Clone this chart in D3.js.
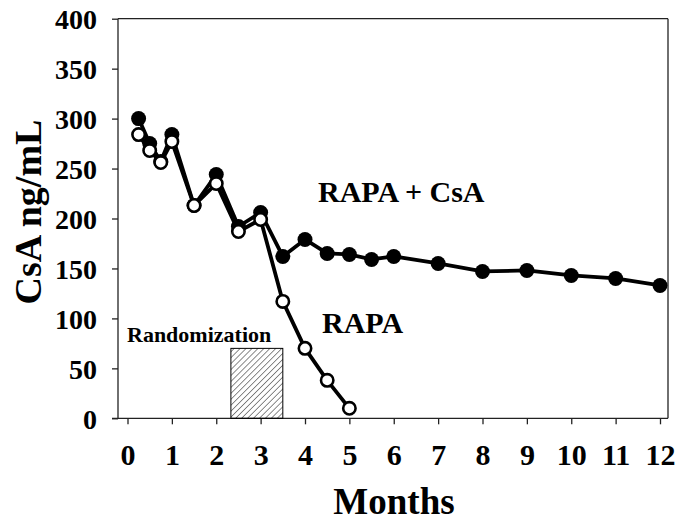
<!DOCTYPE html>
<html><head><meta charset="utf-8">
<script src="https://cdn.jsdelivr.net/npm/d3@7"></script>
<style>html,body{margin:0;padding:0;background:#fff;}svg{display:block;}</style>
</head><body>
<svg id="chart" width="678" height="521"></svg>
<script>
const combMonths = [0.25,0.5,0.75,1,1.5,2,2.5,3,3.5,4,4.5,5,5.5,6,7,8,9,10,11,12];
const combValues = [300,275,257,284,213,244,192,206,162,179,165,164,159,162,155,147,148,143,140,133];
const rapaMonths = [0.25,0.5,0.75,1,1.5,2,2.5,3,3.5,4,4.5,5];
const rapaValues = [284,268,256,277,213,235,187,199,117,70,38,10];
const xTicks = [0,1,2,3,4,5,6,7,8,9,10,11,12];
const yTicks = [0,50,100,150,200,250,300,350,400];
const randomization = {start: 2.33, end: 3.5, height: 70};

const svg = d3.select("#chart");
const font = "'Liberation Serif','Times New Roman',serif";
const x = d3.scaleLinear().domain([0,12]).range([127.5,660]);
const y = d3.scaleLinear().domain([0,400]).range([418.3,18.7]);
const L = 118, R = 668;

// hatch pattern
const defs = svg.append("defs");
const pat = defs.append("pattern").attr("id","hatch").attr("patternUnits","userSpaceOnUse")
  .attr("width",4.2).attr("height",4.2).attr("patternTransform","rotate(45)");
pat.append("line").attr("x1",0).attr("y1",0).attr("x2",0).attr("y2",4.2)
  .attr("stroke","#000").attr("stroke-width",0.9);

// frame
const g = svg.append("g");
g.append("line").attr("x1",L).attr("x2",R).attr("y1",y(400)).attr("y2",y(400)).attr("stroke","#222").attr("stroke-width",1.3);
g.append("line").attr("x1",R).attr("x2",R).attr("y1",y(400)).attr("y2",y(0)).attr("stroke","#222").attr("stroke-width",1.3);

// axes
const yAxis = d3.axisLeft(y).tickValues(yTicks).tickSize(6).tickFormat(d3.format("d"));
const ya = svg.append("g").attr("transform",`translate(${L},0)`).call(yAxis);
ya.select(".domain").attr("d",`M0,${y(0)}V${y(400)}`);
const xAxis = d3.axisBottom(x).tickValues(xTicks).tickSize(6).tickFormat(d3.format("d"));
const xa = svg.append("g").attr("transform",`translate(0,${y(0)})`).call(xAxis);
xa.select(".domain").attr("d",`M${L-6},0H${R}`);
[ya,xa].forEach(a=>{
  a.selectAll("path,line").attr("stroke","#222").attr("stroke-width",1.3);
  a.selectAll("text").attr("font-family",font).attr("font-weight","bold").attr("fill","#000");
});
ya.selectAll("text").attr("font-size",28).attr("x",-21).attr("dy","0.36em");
xa.selectAll("text").attr("font-size",30).attr("y",47).attr("dy",0);

// randomization box
svg.append("rect")
  .attr("x",x(randomization.start)).attr("y",y(randomization.height))
  .attr("width",x(randomization.end)-x(randomization.start))
  .attr("height",y(0)-y(randomization.height))
  .attr("fill","url(#hatch)").attr("stroke","#000").attr("stroke-width",1);

const line = d3.line().x(d=>x(d[0])).y(d=>y(d[1]));
const comb = combMonths.map((m,i)=>[m,combValues[i]]);
const rapa = rapaMonths.map((m,i)=>[m,rapaValues[i]]);

svg.append("path").datum(comb).attr("d",line).attr("fill","none").attr("stroke","#000").attr("stroke-width",3.8).attr("stroke-linejoin","round");
svg.append("g").selectAll("circle").data(comb).join("circle")
  .attr("cx",d=>x(d[0])).attr("cy",d=>y(d[1])).attr("r",7.5).attr("fill","#000");

svg.append("path").datum(rapa).attr("d",line).attr("fill","none").attr("stroke","#000").attr("stroke-width",3.8).attr("stroke-linejoin","round");
svg.append("g").selectAll("circle").data(rapa).join("circle")
  .attr("cx",d=>x(d[0])).attr("cy",d=>y(d[1])).attr("r",6.2).attr("fill","#fff").attr("stroke","#000").attr("stroke-width",2.6);

// labels
const lab = (t,xx,yy,fs,anchor)=>svg.append("text").text(t).attr("x",xx).attr("y",yy)
  .attr("font-family",font).attr("font-weight","bold").attr("font-size",fs)
  .attr("text-anchor",anchor||"start").attr("fill","#000");
lab("RAPA + CsA",318,202,30);
lab("RAPA",322,333,30);
lab("Randomization",127,342,22);
lab("Months",394,514,37,"middle");
svg.append("text").text("CsA ng/mL").attr("transform","translate(41,212) rotate(-90)")
  .attr("text-anchor","middle").attr("font-family",font).attr("font-weight","bold")
  .attr("font-size",38).attr("fill","#000");
</script>
</body></html>
